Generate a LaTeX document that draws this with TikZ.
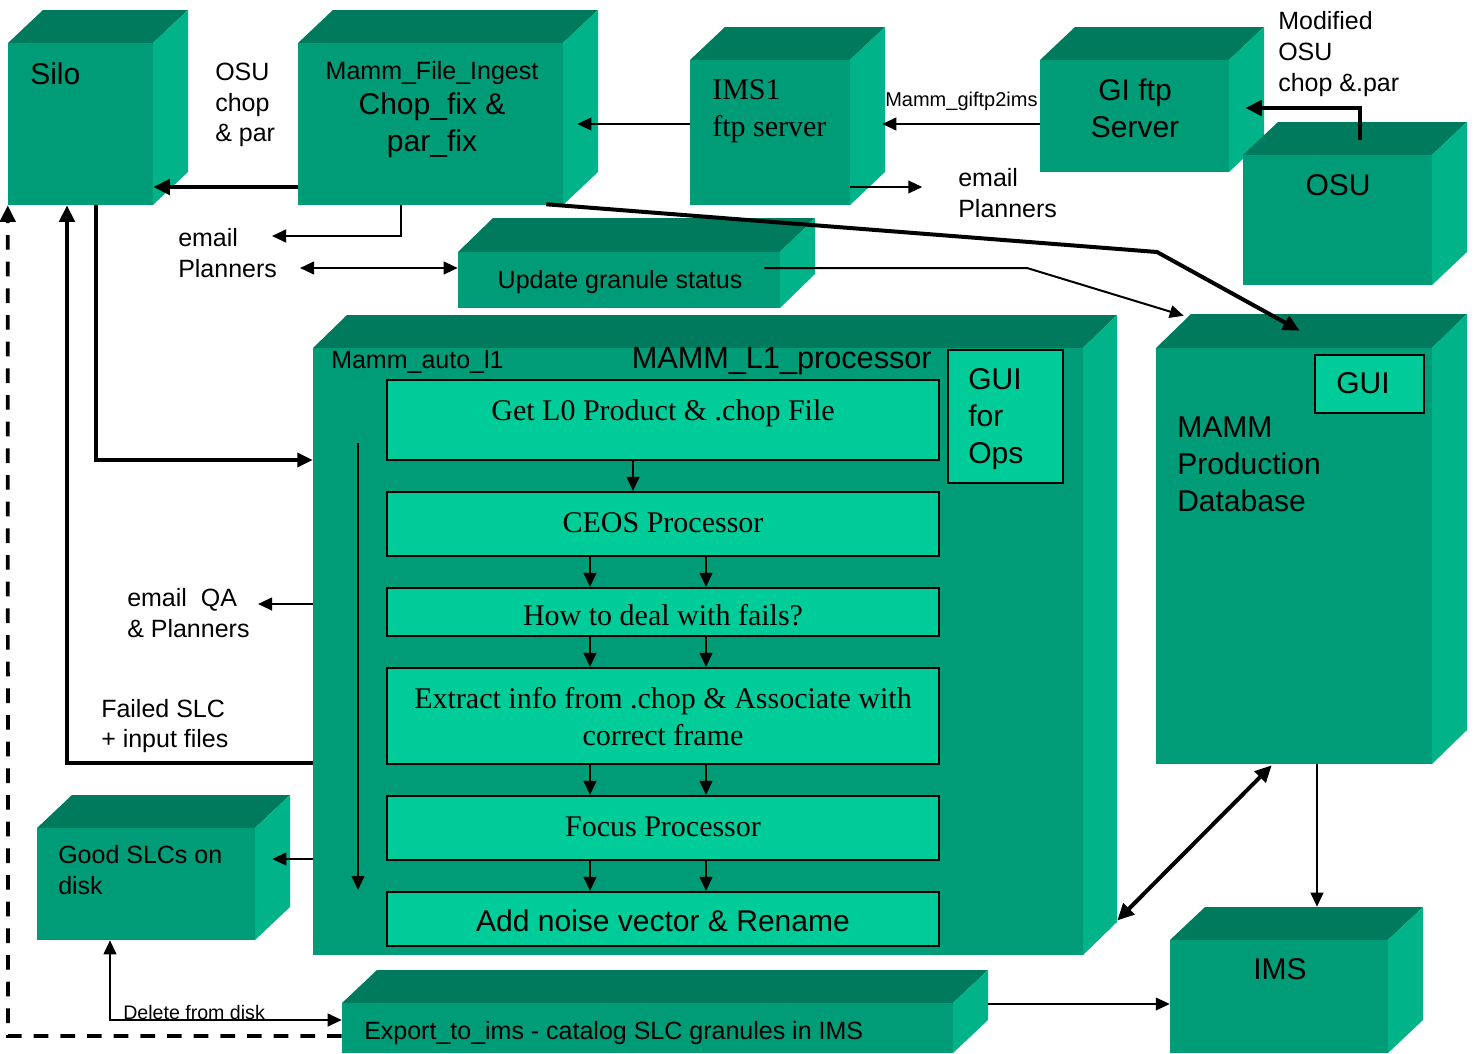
\documentclass[tikz,border=0pt]{standalone}
\usepackage{fontspec}
\setmainfont{Liberation Sans}
\newfontfamily\tms{Liberation Serif}
\usetikzlibrary{arrows.meta,fit,calc}
\definecolor{topc}{HTML}{007A5C}
\definecolor{frontc}{HTML}{009B77}
\definecolor{sidec}{HTML}{00B388}
\definecolor{innerc}{HTML}{00CC99}
\newcommand\fxl{\fontsize{22.5}{27.75}\selectfont}
\newcommand\fmd{\fontsize{18.75}{23}\selectfont}
\newcommand\fsm{\fontsize{15}{18}\selectfont}
% name, x1, y1, x2, y2, dx, dy
\newcommand\cubebox[7]{%
  \fill[topc] (#2,#3) -- (#2+#6,#3-#7) -- (#4+#6,#3-#7) -- (#4,#3) -- cycle;
  \fill[sidec] (#4,#3) -- (#4+#6,#3-#7) -- (#4+#6,#5-#7) -- (#4,#5) -- cycle;
  \coordinate (#1-nw) at (#2,#3);
  \coordinate (#1-se) at (#4,#5);
  \node[fit=(#1-nw)(#1-se),inner sep=0pt,fill=frontc] (#1) {};
}
\newcommand\innerbox[5]{%
  \coordinate (#1-nw) at (#2,#3);
  \coordinate (#1-se) at (#4,#5);
  \node[fit=(#1-nw)(#1-se),inner sep=0pt,fill=innerc,draw=black,line width=1.6pt] (#1) {};
}
\tikzset{
  thn/.style={line width=1.5pt,-{Triangle[length=10.5pt,width=9.5pt]}},
  med/.style={line width=2.3pt,-{Triangle[length=11.5pt,width=10.5pt]}},
  thk/.style={line width=3pt,-{Triangle[length=12.5pt,width=11.5pt]}},
  thnboth/.style={line width=1.5pt,{Triangle[length=10.5pt,width=9.5pt]}-{Triangle[length=10.5pt,width=9.5pt]}},
  thkboth/.style={line width=3pt,{Triangle[length=12.5pt,width=11.5pt]}-{Triangle[length=12.5pt,width=11.5pt]}},
  lbl/.style={inner sep=0pt,align=left},
  lblc/.style={inner sep=0pt,align=center},
}
\begin{document}
\begin{tikzpicture}[x=0.75pt,y=-0.75pt]
\useasboundingbox (0,0) rectangle (1476,1053);
\fill[white] (0,0) rectangle (1476,1053);

% ---- 3D boxes
\cubebox{silo}{8}{43}{153}{205}{35}{33}
\cubebox{ingest}{298}{43}{563}{205}{35}{33}
\cubebox{ims1}{690}{60}{850}{205}{35}{33}
\cubebox{gi}{1040}{60}{1229}{172}{35}{33}
\cubebox{osu}{1243}{155}{1432}{285}{35}{33}
\cubebox{upd}{458}{252}{780}{308}{35}{34}
\cubebox{lone}{313}{348}{1083}{955}{34}{33}
\cubebox{db}{1156}{348}{1432}{764}{35}{34}
\cubebox{ims}{1170}{940}{1388}{1053}{35}{33}
\cubebox{good}{37}{828}{255}{940}{35}{33}
\cubebox{export}{342}{1003}{953}{1053}{35}{33}

% ---- inner boxes
\innerbox{getl}{387}{380}{939}{460}
\innerbox{ceos}{387}{492}{939}{556}
\innerbox{fails}{387}{588}{939}{636}
\innerbox{extract}{387}{668}{939}{764}
\innerbox{focus}{387}{796}{939}{860}
\innerbox{noise}{387}{892}{939}{946}
\innerbox{guiops}{948}{350}{1063}{483}
\innerbox{gui}{1315}{355}{1424}{413}

% ---- connectors
\draw[thk] (ingest.west |- 0,187) -- (silo.east |- 0,187);
\draw[thn] (ims1.west |- 0,124) -- ($(ingest.east |- 0,124)+(14,0)$);
\draw[thn] (gi.west |- 0,124) -- ($(ims1.east |- 0,124)+(32,0)$);
\draw[thk] (1360,140) -- (1360,108) -- ($(gi.east |- 0,108)+(16,0)$);
\draw[thn] (ims1.east |- 0,187) -- ++(72,0) coordinate (emailR);
\draw[thn] (ingest.south -| 401,0) -- (401,236) -- (272,236) coordinate (emailL);
\draw[thnboth] (300,268) coordinate (plannersL) -- (upd.west |- 0,268);
\draw[thn] ($(upd.east |- 0,268)+(-16,0)$) -- (1027,268) -- ($(db.north west)+(28,-32)$);
\draw[thk] ($(ingest.south east)+(-17,-1)$) -- (1157,252) -- ($(db.north west)+(144,-17)$);
\draw[med] (silo.south -| 96,0) -- (96,460) -- (lone.west |- 0,460);
\draw[thk] (lone.west |- 0,763) -- (67,763) -- (silo.south -| 67,0);
\draw[thn] (lone.west |- 0,604) -- (258,604) coordinate (emailQA);
\draw[thn] (lone.west |- 0,859) -- ($(good.east |- 0,859)+(17,0)$);
\draw[line width=2.8pt,dash pattern=on 11pt off 9pt,-{Triangle[length=12.5pt,width=11.5pt]}]
  (export.west |- 0,1036) -- (8,1036) -- (silo.south west);
\draw[thnboth] (good.south -| 110,0) -- (110,1020) -- (export.west |- 0,1020);
\draw[thkboth] ($(lone.east)+(34,269)$) -- ($(db.south west)+(116,1)$);
\draw[thn] (db.south -| 1317,0) -- ($(ims.north -| 1317,0)+(0,-33)$);
\draw[thn] ($(export.east |- 0,1004)+(35,0)$) -- (ims.west |- 0,1004);

% inner arrows
\draw[thn] (getl.south -| 633,0) -- (ceos.north -| 633,0);
\foreach \xx in {590,706}{
  \draw[thn] (ceos.south -| \xx,0) -- (fails.north -| \xx,0);
  \draw[thn] (fails.south -| \xx,0) -- (extract.north -| \xx,0);
  \draw[thn] (extract.south -| \xx,0) -- (focus.north -| \xx,0);
  \draw[thn] (focus.south -| \xx,0) -- (noise.north -| \xx,0);
}
\draw[thn] (358,443) -- (358,890);

% ---- labels
\node[lbl,anchor=base west,font=\fxl] (tsilo) at (30,84) {Silo};
\node[lbl,anchor=west,font=\fmd,align=left] (tosu1) at (215,105) {\fontsize{18.75}{22.75}\selectfont OSU\\chop\\\& par};
\node[lblc,anchor=base,font=\fmd] (tingest) at (432,79) {Mamm\_File\_Ingest};
\node[lblc,anchor=center,font=\fxl] (tchop) at (432,125) {Chop\_fix \&\\par\_fix};
\node[lbl,anchor=west,font=\fxl\tms] (tims1) at (712,111) {\fontsize{22.5}{28.5}\selectfont IMS1\\ftp server};
\node[lbl,anchor=base west,font=\fsm] (tgiftp) at (885,106) {Mamm\_giftp2ims};
\node[lblc,anchor=center,font=\fxl] (tgi) at (1135,108) {GI ftp\\Server};
\node[lbl,anchor=west,font=\fmd] (tmod) at (1278,54) {\fontsize{18.75}{23.5}\selectfont Modified\\OSU\\chop \&.par};
\node[lblc,anchor=base,font=\fxl] (tosu) at (1338,195) {OSU};
\node[lbl,anchor=west,font=\fmd] (temailR) at (958,193) {\fontsize{18.75}{22.5}\selectfont email\\Planners};
\node[lbl,anchor=west,font=\fmd] (temailL) at (178,253) {\fontsize{18.75}{23.25}\selectfont email\\Planners};
\node[lblc,anchor=base,font=\fmd] (tupd) at (620,288) {Update granule status};
\node[lbl,anchor=base west,font=\fmd] (tauto) at (331,368) {Mamm\_auto\_l1};
\node[lbl,anchor=base east,font=\fontsize{23}{27}\selectfont] (tl1) at (932,368) {MAMM\_L1\_processor};
\node[lbl,anchor=west,font=\fxl] (tguiops) at (968,419) {\fontsize{22.5}{27.6}\selectfont GUI\\for\\Ops};
\node[lblc,anchor=base,font=\fxl] (tgui) at (1363,393) {GUI};
\node[lbl,anchor=west,font=\fxl] (tdb) at (1177,464) {MAMM\\Production\\Database};
\node[lbl,anchor=west,font=\fmd] (tqa) at (127,613) {\fontsize{18.75}{23.25}\selectfont email\ \ QA\\\& Planners};
\node[lbl,anchor=west,font=\fmd] (tfailed) at (101,726) {\fontsize{18.75}{23.25}\selectfont Failed SLC\\+ input files};
\node[lbl,anchor=west,font=\fmd] (tgood) at (58,870) {\fontsize{18.75}{23.25}\selectfont Good SLCs on\\disk};
\node[lbl,anchor=base west,font=\fontsize{14.7}{17}\selectfont] (tdel) at (123,1019) {Delete from disk};
\node[lbl,anchor=base west,font=\fmd] (texport) at (364,1039) {Export\_to\_ims - catalog SLC granules in IMS};
\node[lblc,anchor=base,font=\fxl] (tims) at (1280,979) {IMS};
\node[lblc,anchor=base,font=\fxl\tms] (tgetl) at (663,420) {Get L0 Product \& .chop File};
\node[lblc,anchor=base,font=\fxl\tms] (tceos) at (663,532) {CEOS Processor};
\node[lblc,anchor=base,font=\fxl\tms] (tfails) at (663,625) {How to deal with fails?};
\node[lblc,anchor=center,font=\fxl\tms] (textract) at (663,717) {\fontsize{22.5}{28.5}\selectfont Extract info from .chop \& Associate with\\correct frame};
\node[lblc,anchor=base,font=\fxl\tms] (tfocus) at (663,836) {Focus Processor};
\node[lblc,anchor=base,font=\fxl] (tnoise) at (663,931) {Add noise vector \& Rename};
\end{tikzpicture}
\end{document}
